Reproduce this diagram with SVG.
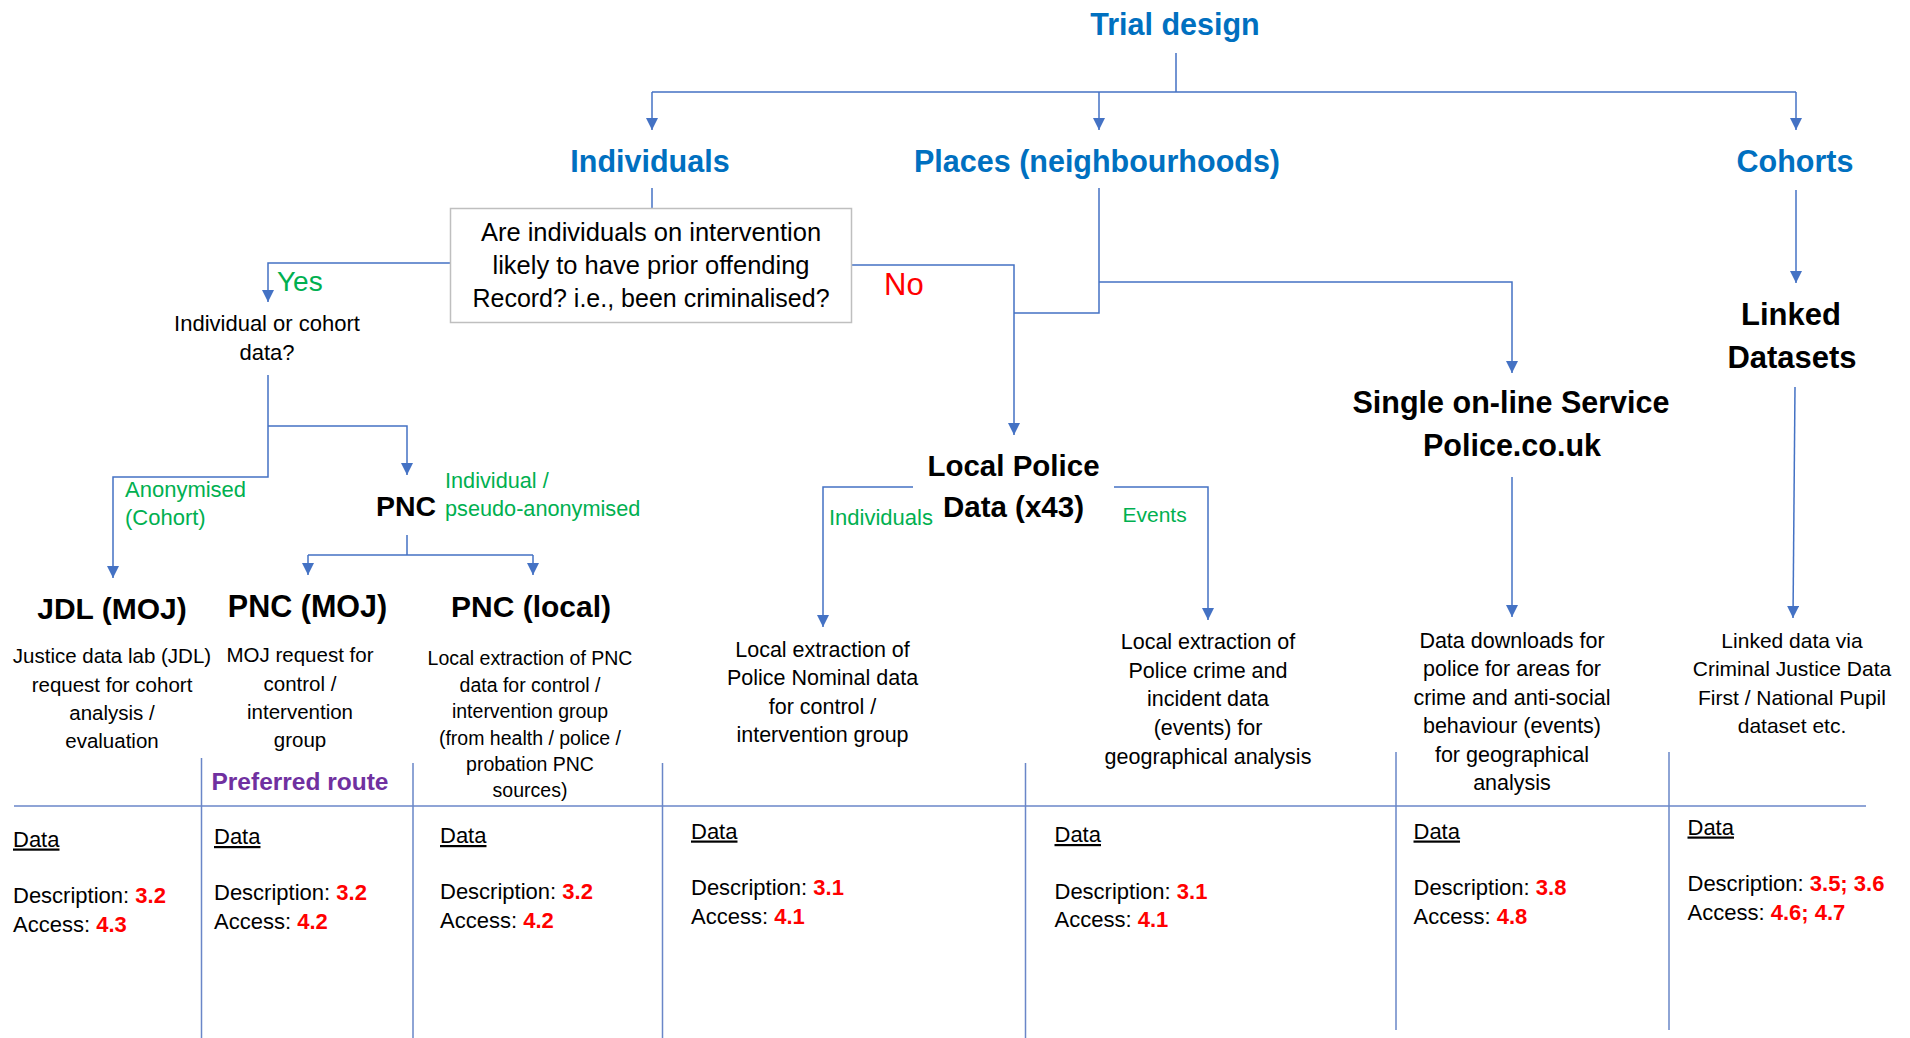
<svg xmlns="http://www.w3.org/2000/svg" width="1910" height="1038" viewBox="0 0 1910 1038">
<defs>
<marker id="arr" markerUnits="userSpaceOnUse" markerWidth="12" markerHeight="12" viewBox="0 0 10 10" refX="10" refY="5" orient="auto">
<path d="M0,0 L10,5 L0,10 z" fill="#4472C4"/>
</marker>
<style>
text{font-family:"Liberation Sans",Arial,sans-serif;}
.hd{font-size:30.5px;font-weight:bold;fill:#0070C0;text-anchor:middle;}
.nd{font-size:30px;font-weight:bold;fill:#000;text-anchor:middle;}
.ds{font-size:21.5px;fill:#000;text-anchor:middle;}
.q{font-size:25.5px;fill:#000;text-anchor:middle;}
.gr{font-size:21.7px;fill:#00B050;}
.tb{font-size:22px;fill:#000;}
.rd{fill:#FF0000;font-weight:bold;}
.cn{fill:none;stroke:#4472C4;stroke-width:1.5;}
.ca{fill:none;stroke:#4472C4;stroke-width:1.5;marker-end:url(#arr);}
.tl{fill:none;stroke:#6A86C8;stroke-width:1.5;}
</style>
</defs>
<rect width="1910" height="1038" fill="#fff"/>

<g id="connectors">
<path class="cn" d="M1176,53 V92 M652,92 H1796"/>
<path class="ca" d="M652,92 V130"/>
<path class="ca" d="M1099,92 V130"/>
<path class="ca" d="M1796,92 V130"/>
<path class="cn" d="M652,188 V208"/>
<path class="ca" d="M450,263 H268 V302"/>
<path class="ca" d="M852,265 H1014 V435"/>
<path class="cn" d="M1099,188 V313 H1014"/>
<path class="ca" d="M1099,282 H1512 V373"/>
<path class="ca" d="M1796,190 V283"/>
<path class="ca" d="M268,375 V477 H113 V578"/>
<path class="ca" d="M268,426 H407 V475"/>
<path class="cn" d="M407,535 V555 M308,555 H533"/>
<path class="ca" d="M308,555 V575"/>
<path class="ca" d="M533,555 V575"/>
<path class="ca" d="M913,487 H823 V627"/>
<path class="ca" d="M1114,487 H1208 V620"/>
<path class="ca" d="M1512,477 V617"/>
<path class="ca" d="M1795,387 L1793,618"/>
</g>

<g id="table-lines">
<path class="tl" d="M14,806 H1866"/>
<path class="tl" d="M201.5,758 V1038 M413,763 V1038 M662.5,763 V1038 M1025.5,763 V1038 M1396,752 V1030 M1669,752 V1030"/>
</g>

<g id="trial-design"><text class="hd" x="1175" y="35">Trial design</text></g>
<g id="individuals"><text class="hd" x="650" y="172">Individuals</text></g>
<g id="places"><text class="hd" x="1097" y="172">Places (neighbourhoods)</text></g>
<g id="cohorts"><text class="hd" x="1795" y="172">Cohorts</text></g>

<g id="question">
<rect x="450.5" y="208.5" width="401" height="114" fill="#fff" stroke="#BFBFBF" stroke-width="1.5"/>
<text class="q" x="651" y="240.5">Are individuals on intervention</text>
<text class="q" x="651" y="274">likely to have prior offending</text>
<text class="q" x="651" y="307" style="font-size:25px">Record? i.e., been criminalised?</text>
</g>

<g id="yes-label"><text x="277" y="291" style="font-size:28px;fill:#00B050">Yes</text></g>
<g id="no-label"><text x="884" y="295" style="font-size:31px;fill:#FF0000">No</text></g>

<g id="individual-or-cohort">
<text class="ds" x="267" y="331" style="font-size:22px">Individual or cohort</text>
<text class="ds" x="267" y="359.5" style="font-size:22px">data?</text>
</g>

<g id="anonymised-label">
<text class="gr" x="125" y="497" style="font-size:22px">Anonymised</text>
<text class="gr" x="125" y="525" style="font-size:22px">(Cohort)</text>
</g>

<g id="pnc">
<text class="nd" x="406" y="516" style="font-size:28.5px">PNC</text>
</g>
<g id="pseudo-label">
<text class="gr" x="445" y="487.5">Individual /</text>
<text class="gr" x="445" y="515.5">pseudo-anonymised</text>
</g>

<g id="linked-datasets">
<text class="nd" x="1791" y="325" style="font-size:31px">Linked</text>
<text class="nd" x="1792" y="368" style="font-size:31px">Datasets</text>
</g>

<g id="single-online">
<text class="nd" x="1511" y="413" style="font-size:30.5px">Single on-line Service</text>
<text class="nd" x="1512" y="456" style="font-size:30.5px">Police.co.uk</text>
</g>

<g id="local-police">
<text class="nd" x="1013.5" y="475.5" style="font-size:29.5px">Local Police</text>
<text class="nd" x="1013.5" y="517" style="font-size:29.5px">Data (x43)</text>
</g>
<g id="individuals-label"><text class="gr" x="829" y="525" style="font-size:22px">Individuals</text></g>
<g id="events-label"><text class="gr" x="1122.5" y="522" style="font-size:21px">Events</text></g>

<g id="jdl-moj">
<text class="nd" x="112" y="619">JDL (MOJ)</text>
<text class="ds" x="112" y="663" style="font-size:20.5px">Justice data lab (JDL)</text>
<text class="ds" x="112" y="691.5" style="font-size:20.5px">request for cohort</text>
<text class="ds" x="112" y="720" style="font-size:20.5px">analysis /</text>
<text class="ds" x="112" y="748" style="font-size:20.5px">evaluation</text>
</g>

<g id="pnc-moj">
<text class="nd" x="307.5" y="616.5" style="font-size:30.5px">PNC (MOJ)</text>
<text class="ds" x="300" y="662" style="font-size:20.5px">MOJ request for</text>
<text class="ds" x="300" y="690.5" style="font-size:20.5px">control /</text>
<text class="ds" x="300" y="719" style="font-size:20.5px">intervention</text>
<text class="ds" x="300" y="747" style="font-size:20.5px">group</text>
<text x="300" y="790" style="font-size:24.5px;font-weight:bold;fill:#7030A0;text-anchor:middle">Preferred route</text>
</g>

<g id="pnc-local">
<text class="nd" x="531" y="616.5">PNC (local)</text>
<text class="ds" x="530" y="665" style="font-size:19.5px">Local extraction of PNC</text>
<text class="ds" x="530" y="691.5" style="font-size:19.5px">data for control /</text>
<text class="ds" x="530" y="718" style="font-size:19.5px">intervention group</text>
<text class="ds" x="530" y="744.5" style="font-size:19.5px">(from health / police /</text>
<text class="ds" x="530" y="771" style="font-size:19.5px">probation PNC</text>
<text class="ds" x="530" y="797" style="font-size:19.5px">sources)</text>
</g>

<g id="police-nominal">
<text class="ds" x="822.5" y="657">Local extraction of</text>
<text class="ds" x="822.5" y="685">Police Nominal data</text>
<text class="ds" x="822.5" y="713.5">for control /</text>
<text class="ds" x="822.5" y="742">intervention group</text>
</g>

<g id="police-crime">
<text class="ds" x="1208" y="649">Local extraction of</text>
<text class="ds" x="1208" y="677.5">Police crime and</text>
<text class="ds" x="1208" y="706">incident data</text>
<text class="ds" x="1208" y="735">(events) for</text>
<text class="ds" x="1208" y="763.5">geographical analysis</text>
</g>

<g id="data-downloads">
<text class="ds" x="1512" y="648">Data downloads for</text>
<text class="ds" x="1512" y="676">police for areas for</text>
<text class="ds" x="1512" y="704.5">crime and anti-social</text>
<text class="ds" x="1512" y="733">behaviour (events)</text>
<text class="ds" x="1512" y="761.5">for geographical</text>
<text class="ds" x="1512" y="790">analysis</text>
</g>

<g id="linked-data">
<text class="ds" x="1792" y="648" style="font-size:21px">Linked data via</text>
<text class="ds" x="1792" y="676" style="font-size:21px">Criminal Justice Data</text>
<text class="ds" x="1792" y="704.5" style="font-size:21px">First / National Pupil</text>
<text class="ds" x="1792" y="732.5" style="font-size:21px">dataset etc.</text>
</g>

<g id="cell-1">
<text class="tb" x="13" y="846.5" text-decoration="underline">Data</text>
<text class="tb" x="13" y="903">Description: <tspan class="rd">3.2</tspan></text>
<text class="tb" x="13" y="932">Access: <tspan class="rd">4.3</tspan></text>
</g>
<g id="cell-2">
<text class="tb" x="214" y="844" text-decoration="underline">Data</text>
<text class="tb" x="214" y="900">Description: <tspan class="rd">3.2</tspan></text>
<text class="tb" x="214" y="928.5">Access: <tspan class="rd">4.2</tspan></text>
</g>
<g id="cell-3">
<text class="tb" x="440" y="843" text-decoration="underline">Data</text>
<text class="tb" x="440" y="899">Description: <tspan class="rd">3.2</tspan></text>
<text class="tb" x="440" y="927.5">Access: <tspan class="rd">4.2</tspan></text>
</g>
<g id="cell-4">
<text class="tb" x="691" y="838.5" text-decoration="underline">Data</text>
<text class="tb" x="691" y="895">Description: <tspan class="rd">3.1</tspan></text>
<text class="tb" x="691" y="923.5">Access: <tspan class="rd">4.1</tspan></text>
</g>
<g id="cell-5">
<text class="tb" x="1054.5" y="842" text-decoration="underline">Data</text>
<text class="tb" x="1054.5" y="898.5">Description: <tspan class="rd">3.1</tspan></text>
<text class="tb" x="1054.5" y="927">Access: <tspan class="rd">4.1</tspan></text>
</g>
<g id="cell-6">
<text class="tb" x="1413.5" y="838.5" text-decoration="underline">Data</text>
<text class="tb" x="1413.5" y="895">Description: <tspan class="rd">3.8</tspan></text>
<text class="tb" x="1413.5" y="923.5">Access: <tspan class="rd">4.8</tspan></text>
</g>
<g id="cell-7">
<text class="tb" x="1687.5" y="834.5" text-decoration="underline">Data</text>
<text class="tb" x="1687.5" y="891">Description: <tspan class="rd">3.5; 3.6</tspan></text>
<text class="tb" x="1687.5" y="919.5">Access: <tspan class="rd">4.6; 4.7</tspan></text>
</g>
</svg>
